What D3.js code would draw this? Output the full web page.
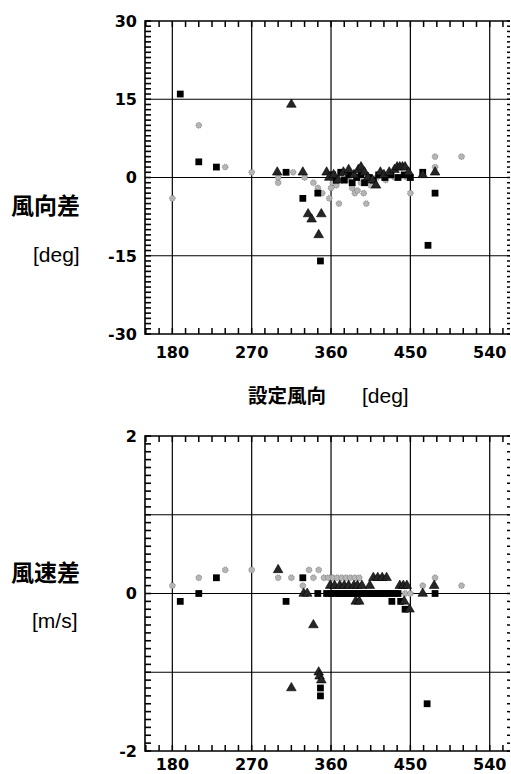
<!DOCTYPE html>
<html>
<head>
<meta charset="utf-8">
<style>
  body { margin: 0; background: #fff; overflow: hidden; }
  svg { display: block; }
  .tick-label { font-family: "DejaVu Sans", sans-serif; font-weight: bold; font-size: 16px; }
  .title { font-family: "Noto Sans CJK JP", sans-serif; font-weight: bold; }
  .unit { font-family: "Liberation Sans", Arial, sans-serif; font-size: 21px; }
</style>
</head>
<body>
<script src="https://cdn.jsdelivr.net/npm/d3@7"></script>
<script>
// x values: setting direction [deg]
var xTicks = [180, 270, 360, 450, 540];

// wind direction difference [deg]
var dirTicks = [30, 15, 0, -15, -30];
var dirSquares = [
  [189, 16], [210, 3], [230, 2], [309, 1], [328, -4], [345, -3], [348, -16],
  [362, 0.5], [366, -0.5], [371, 1], [375, -0.5], [380, 0.5], [384, -1], [389, 0], [394, 0.5],
  [398, -1], [403, 0], [408, -0.5], [414, 0.5], [421, 0], [428, 0.5], [436, 0], [443, 0.5],
  [450, 0], [464, 1], [478, -3], [470, -13]
];
var dirTriangles = [
  [299, 1], [315, 14], [328, 1], [334, -7], [338, -8], [349, -7], [346, -11], [355, 1],
  [358, 0], [363, 0.5], [368, -0.5], [374, 1], [380, 1.5], [386, 0.5], [391, 1.5], [394, 2],
  [398, 1], [402, 0], [407, -0.5], [411, -1.5], [416, 1], [420, 0.5], [426, 1], [432, 1.5],
  [435, 2], [438, 2], [441, 2], [444, 2], [448, 1], [464, 0.5], [478, 1]
];
var dirCircles = [
  [180, -4], [210, 10], [240, 2], [270, 1], [300, -1], [300, 0], [317, 1], [330, 0], [340, -1],
  [345, -2], [350, -3], [358, -4], [360, -2], [362, -1], [366, -1.5], [369, -5], [372, 0],
  [378, -0.5], [384, -2], [387, -3], [390, -2.5], [394, -1], [397, -3], [400, -5], [405, -1.5],
  [412, 0], [422, -0.5], [432, 0], [446, 0], [450, -3], [478, 4], [478, 2], [508, 4]
];

// wind speed difference [m/s]
var spdTicks = [2, 0, -2];
var spdSquares = [
  [189, -0.1], [210, 0], [230, 0.2], [309, -0.1], [328, 0.2], [345, 0], [355, 0], [348, -1.2], [348, -1.3],
  [360, 0], [364, 0], [368, 0], [372, 0], [376, 0], [380, 0], [384, 0], [388, 0], [392, 0], [396, 0],
  [400, 0], [404, 0], [408, 0], [412, 0], [416, 0], [420, 0], [424, 0], [428, 0], [432, 0], [436, 0],
  [429, -0.1], [439, -0.1], [444, -0.2], [478, 0], [469, -1.4]
];
var spdTriangles = [
  [300, 0.3], [315, -1.2], [329, 0], [333, 0], [340, -0.4], [346, -1.0], [347, -1.05], [349, -1.1],
  [359, 0.1], [364, 0.1], [370, 0.1], [375, 0.1], [380, 0.1], [386, 0.1], [390, 0.1], [395, 0.1],
  [388, -0.1], [392, -0.1], [404, 0.1], [408, 0.2], [413, 0.2], [418, 0.2], [423, 0.2],
  [438, 0.1], [442, 0.1], [446, 0.1], [443, -0.1], [449, -0.2], [464, 0], [477, 0.1]
];
var spdCircles = [
  [180, 0.1], [210, 0.2], [240, 0.3], [270, 0.3], [300, 0.2], [315, 0.2], [328, 0.1], [335, 0.3],
  [340, 0.2], [346, 0.3], [352, 0.2], [357, 0.2], [362, 0.2], [367, 0.2], [372, 0.2], [377, 0.2],
  [382, 0.2], [387, 0.2], [392, 0.2], [410, 0.2], [415, 0.2], [420, 0.2], [444, 0], [450, 0],
  [464, 0.1], [478, 0.2], [508, 0.1]
];

var W = 511, H = 774;
var svg = d3.select("body").append("svg").attr("width", W).attr("height", H);

var x = d3.scaleLinear().domain([149, 563]).range([145, 510]);
var xMinor = d3.range(150, 561, 15);
var tickSegs = [];   // collected per panel, drawn last on top of everything

function panel(cfg) {
  var y = d3.scaleLinear().domain(cfg.domain).range([cfg.bottom, cfg.top]);
  var g = svg.append("g");
  var x0 = x.range()[0], x1 = x.range()[1];

  var n = Math.round((cfg.domain[1] - cfg.domain[0]) / cfg.minor);
  var minor = d3.range(n + 1).map(function (i) { return cfg.domain[0] + i * cfg.minor; });

  minor.forEach(function (d) {
    tickSegs.push({ x1: x0, y1: y(d), x2: x0 + 6, y2: y(d), w: 1.6 });
    tickSegs.push({ x1: x1 - 3, y1: y(d), x2: x1, y2: y(d), w: 1.5 });
  });
  xMinor.forEach(function (d) {
    tickSegs.push({ x1: x(d), y1: cfg.top, x2: x(d), y2: cfg.top + 6, w: 1.5 });
    tickSegs.push({ x1: x(d), y1: cfg.bottom, x2: x(d), y2: cfg.bottom - 6, w: 1.5 });
  });

  // grid lines
  g.selectAll("line.gx").data(xTicks).enter().append("line").attr("class", "gx")
    .attr("x1", function (d) { return x(d); }).attr("x2", function (d) { return x(d); })
    .attr("y1", cfg.top).attr("y2", cfg.bottom)
    .attr("stroke", "#000").attr("stroke-width", 1.2);
  g.selectAll("line.gy").data(cfg.grid).enter().append("line").attr("class", "gy")
    .attr("x1", x0).attr("x2", x1)
    .attr("y1", function (d) { return y(d); }).attr("y2", function (d) { return y(d); })
    .attr("stroke", "#000").attr("stroke-width", 1.2);

  // frame (right side left open, only the dotted ticks)
  g.append("path")
    .attr("d", "M" + x1 + "," + cfg.top + "H" + x0 + "V" + cfg.bottom + "H" + x1)
    .attr("fill", "none").attr("stroke", "#000").attr("stroke-width", 1.6);

  // tick labels
  g.selectAll("text.yl").data(cfg.labels).enter().append("text")
    .attr("class", "yl tick-label")
    .attr("x", 137).attr("y", function (d) { return y(d); })
    .attr("dy", "0.36em").attr("text-anchor", "end")
    .text(function (d) { return d < 0 ? "-" + Math.abs(d) : d; });
  g.selectAll("text.xl").data(xTicks).enter().append("text")
    .attr("class", "xl tick-label")
    .attr("x", function (d) { return x(d); }).attr("y", cfg.xLabelY)
    .attr("text-anchor", "middle")
    .text(function (d) { return d; });

  // markers
  var pos = function (d) { return "translate(" + x(d[0]) + "," + y(d[1]) + ")"; };
  g.selectAll("path.c").data(cfg.circles).enter().append("path")
    .attr("class", "c")
    .attr("d", d3.symbol().type(d3.symbolCircle).size(26))
    .attr("transform", pos)
    .attr("fill", "#b5b5b5").attr("stroke", "#6e6e6e").attr("stroke-width", 0.8)
    .attr("stroke-dasharray", "1,1");
  g.selectAll("path.s").data(cfg.squares).enter().append("path")
    .attr("class", "s")
    .attr("d", d3.symbol().type(d3.symbolSquare).size(46))
    .attr("transform", pos)
    .attr("fill", "#000");
  g.selectAll("path.t").data(cfg.triangles).enter().append("path")
    .attr("class", "t")
    .attr("d", d3.symbol().type(d3.symbolTriangle).size(40))
    .attr("transform", pos)
    .attr("fill", "#262626").attr("stroke", "#000").attr("stroke-width", 0.6);

  // y title
  svg.append("text").attr("class", "title")
    .attr("x", 11).attr("y", cfg.titleY).style("font-size", "23px")
    .text(cfg.title);
  svg.append("text").attr("class", "unit")
    .attr("x", cfg.unitX).attr("y", cfg.titleY + cfg.unitDy)
    .text(cfg.unit);
}

panel({
  domain: [-30, 30], top: 21, bottom: 334, minor: 1,
  grid: [15, 0, -15], labels: dirTicks,
  squares: dirSquares, triangles: dirTriangles, circles: dirCircles,
  xLabelY: 358, title: "風向差", titleY: 214, unit: "[deg]", unitX: 33, unitDy: 48
});

panel({
  domain: [-2, 2], top: 436, bottom: 751, minor: 0.1,
  grid: [1, 0, -1], labels: spdTicks,
  squares: spdSquares, triangles: spdTriangles, circles: spdCircles,
  xLabelY: 770, title: "風速差", titleY: 581, unit: "[m/s]", unitX: 32, unitDy: 47
});

// x axis title between the panels
svg.append("text").attr("class", "title")
  .attr("x", 248).attr("y", 403).style("font-size", "19.5px")
  .text("設定風向");
svg.append("text").attr("class", "unit")
  .attr("x", 362).attr("y", 403)
  .text("[deg]");

// frame ticks, drawn last so nothing can sit over them
svg.append("g").attr("class", "frame-ticks")
  .selectAll("line").data(tickSegs).enter().append("line")
  .attr("x1", function (d) { return d.x1; }).attr("y1", function (d) { return d.y1; })
  .attr("x2", function (d) { return d.x2; }).attr("y2", function (d) { return d.y2; })
  .attr("stroke", "#000").attr("stroke-width", function (d) { return d.w; });
</script>
</body>
</html>
